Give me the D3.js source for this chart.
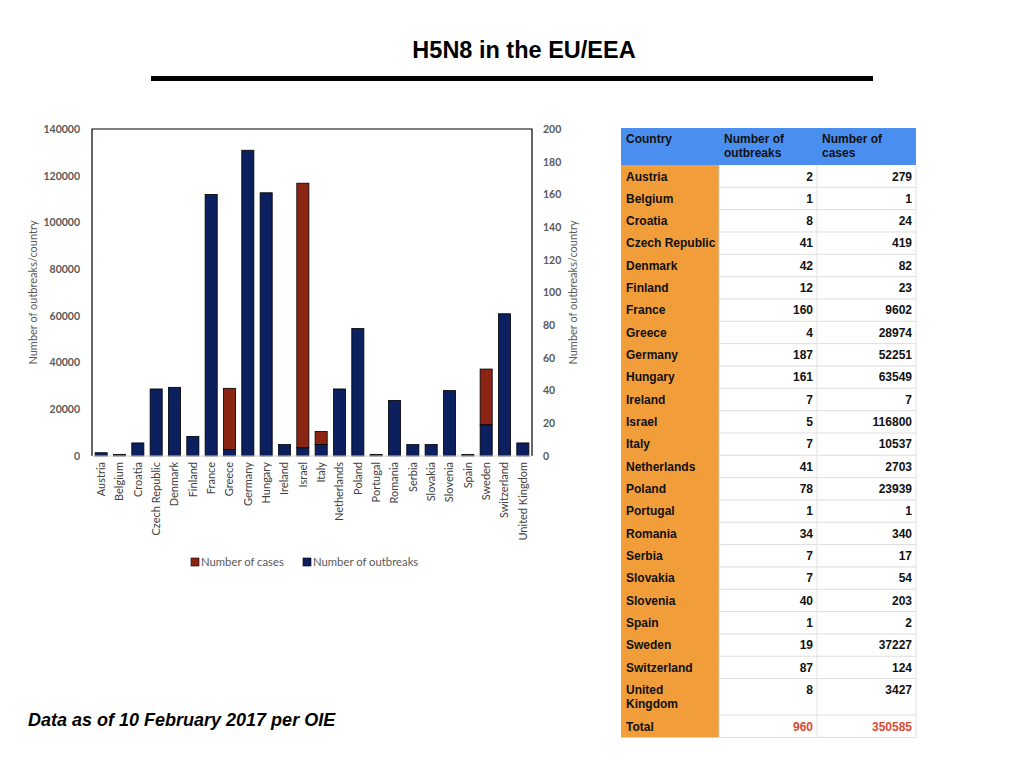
<!DOCTYPE html>
<html>
<head>
<meta charset="utf-8">
<script src="https://cdn.jsdelivr.net/npm/d3@7"></script>
<style>
  body { margin: 0; background: #fff; }
  svg { display: block; }
</style>
</head>
<body>
<script>
var countries = ["Austria", "Belgium", "Croatia", "Czech Republic", "Denmark", "Finland", "France",
  "Greece", "Germany", "Hungary", "Ireland", "Israel", "Italy", "Netherlands", "Poland", "Portugal",
  "Romania", "Serbia", "Slovakia", "Slovenia", "Spain", "Sweden", "Switzerland", "United Kingdom"];
var outbreaks = [2, 1, 8, 41, 42, 12, 160, 4, 187, 161, 7, 5, 7, 41, 78, 1, 34, 7, 7, 40, 1, 19, 87, 8];
var cases = [279, 1, 24, 419, 82, 23, 9602, 28974, 52251, 63549, 7, 116800, 10537, 2703, 23939, 1,
  340, 17, 54, 203, 2, 37227, 124, 3427];
var leftTicks = [0, 20000, 40000, 60000, 80000, 100000, 120000, 140000];
var rightTicks = [0, 20, 40, 60, 80, 100, 120, 140, 160, 180, 200];
var tableHeader = [["Country"], ["Number of", "outbreaks"], ["Number of", "cases"]];

var W = 1024, H = 768;
var navy = "#0c1f5e", red = "#8c2414";
var axisFont = "Lato, 'Open Sans', sans-serif";

var svg = d3.select("body").append("svg")
  .attr("width", W).attr("height", H)
  .attr("viewBox", [0, 0, W, H]);

// title
svg.append("text")
  .attr("x", 524).attr("y", 58)
  .attr("text-anchor", "middle")
  .style("font-family", "'Liberation Sans', Arial, sans-serif")
  .style("font-weight", "bold")
  .style("font-size", "23.5px")
  .text("H5N8 in the EU/EEA");

svg.append("rect")
  .attr("x", 151).attr("y", 76)
  .attr("width", 722).attr("height", 5)
  .attr("fill", "#000");

// chart
var plot = { left: 92, right: 532, top: 129, bottom: 456 };

var x = d3.scaleBand()
  .domain(countries)
  .range([plot.left, plot.right])
  .paddingInner(0.34)
  .paddingOuter(0.17);

var yCases = d3.scaleLinear().domain([0, 140000]).range([plot.bottom, plot.top]);
var yOut = d3.scaleLinear().domain([0, 200]).range([plot.bottom, plot.top]);

var g = svg.append("g");

// cases: only the part rising above the outbreak bar shows
g.selectAll("rect.cases")
  .data(countries.filter(function(d, i) { return yCases(cases[i]) < yOut(outbreaks[i]); }))
  .enter().append("rect")
  .attr("class", "cases")
  .attr("x", function(d) { return x(d); })
  .attr("width", x.bandwidth())
  .attr("y", function(d) { return yCases(cases[countries.indexOf(d)]); })
  .attr("height", function(d) {
    var i = countries.indexOf(d);
    return yOut(outbreaks[i]) - yCases(cases[i]);
  })
  .attr("fill", red)
  .attr("stroke", "#000")
  .attr("stroke-width", 0.8);

// outbreaks
g.selectAll("rect.outbreaks")
  .data(countries)
  .enter().append("rect")
  .attr("class", "outbreaks")
  .attr("x", function(d) { return x(d); })
  .attr("width", x.bandwidth())
  .attr("y", function(d, i) { return yOut(outbreaks[i]); })
  .attr("height", function(d, i) { return plot.bottom - yOut(outbreaks[i]); })
  .attr("fill", navy)
  .attr("stroke", "#000")
  .attr("stroke-width", 0.8);

// frame
svg.append("path")
  .attr("d", "M" + plot.left + "," + plot.bottom + "V" + plot.top + "H" + plot.right + "V" + plot.bottom)
  .attr("fill", "none")
  .attr("stroke", "#000")
  .attr("stroke-width", 1.2);
svg.append("line")
  .attr("x1", plot.left).attr("x2", plot.right)
  .attr("y1", plot.bottom).attr("y2", plot.bottom)
  .attr("stroke", "#d0d0d0")
  .attr("stroke-width", 1.2);

// y axes
var leftAxis = svg.append("g")
  .attr("transform", "translate(" + plot.left + ",0)")
  .call(d3.axisLeft(yCases).tickValues(leftTicks).tickSize(0).tickPadding(12).tickFormat(d3.format("d")));
var rightAxis = svg.append("g")
  .attr("transform", "translate(" + plot.right + ",0)")
  .call(d3.axisRight(yOut).tickValues(rightTicks).tickSize(0).tickPadding(11).tickFormat(d3.format("d")));
[leftAxis, rightAxis].forEach(function(a) {
  a.select(".domain").remove();
  a.selectAll("text")
    .style("font-family", axisFont)
    .style("font-size", "10.5px")
    .style("font-weight", "bold")
    .attr("fill", "#595959");
});

// x axis labels
var xAxis = svg.append("g")
  .attr("transform", "translate(0," + plot.bottom + ")")
  .call(d3.axisBottom(x).tickSize(0).tickPadding(0));
xAxis.select(".domain").remove();
xAxis.selectAll("text")
  .attr("transform", "rotate(-90)")
  .attr("x", -6)
  .attr("y", 0)
  .attr("dy", "0.35em")
  .style("text-anchor", "end")
  .style("font-family", axisFont)
  .style("font-size", "11px")
  .attr("fill", "#404040");

// axis titles
[33, 573].forEach(function(cx) {
  svg.append("text")
    .attr("transform", "translate(" + cx + "," + ((plot.top + plot.bottom) / 2) + ") rotate(-90)")
    .attr("text-anchor", "middle")
    .attr("dy", "0.35em")
    .style("font-family", axisFont)
    .style("font-size", "11px")
    .attr("fill", "#595959")
    .text("Number of outbreaks/country");
});

// legend
var legend = [
  { label: "Number of cases", color: red, x: 191 },
  { label: "Number of outbreaks", color: navy, x: 303 }
];
var lg = svg.append("g").selectAll("g").data(legend).enter().append("g")
  .attr("transform", function(d) { return "translate(" + d.x + ",562)"; });
lg.append("rect")
  .attr("x", 0).attr("y", -4)
  .attr("width", 8).attr("height", 8)
  .attr("fill", function(d) { return d.color; })
  .attr("stroke", "#000").attr("stroke-width", 0.6);
lg.append("text")
  .attr("x", 10).attr("dy", "0.35em")
  .style("font-family", axisFont)
  .style("font-size", "11.3px")
  .attr("fill", "#595959")
  .text(function(d) { return d.label; });

// table
var tbl = { cols: [621, 719, 817, 916], top: 128, headH: 37, rowH: 22.33 };
var tableFont = "'Liberation Sans', Arial, sans-serif";
var cellSize = "12px";
var rows = countries.map(function(c, i) {
  return { lines: c === "United Kingdom" ? ["United", "Kingdom"] : [c], o: outbreaks[i], c: cases[i], total: false };
});
rows.push({ lines: ["Total"], o: d3.sum(outbreaks), c: d3.sum(cases), total: true });

var yPos = tbl.top + tbl.headH;
rows.forEach(function(r) {
  r.y = yPos;
  r.h = r.lines.length > 1 ? 36.5 : tbl.rowH;
  yPos += r.h;
});
var tableBottom = yPos;

var tg = svg.append("g");
// header
tg.append("rect")
  .attr("x", tbl.cols[0]).attr("y", tbl.top)
  .attr("width", tbl.cols[3] - tbl.cols[0]).attr("height", tbl.headH)
  .attr("fill", "#4a8fef");
tableHeader.forEach(function(lines, j) {
  lines.forEach(function(t, k) {
    tg.append("text")
      .attr("x", tbl.cols[j] + 5)
      .attr("y", tbl.top + 15 + k * 14)
      .style("font-family", tableFont)
      .style("font-weight", "bold")
      .style("font-size", cellSize)
      .attr("fill", "#111")
      .text(t);
  });
});
// country column
tg.append("rect")
  .attr("x", tbl.cols[0]).attr("y", tbl.top + tbl.headH)
  .attr("width", tbl.cols[1] - tbl.cols[0]).attr("height", tableBottom - tbl.top - tbl.headH)
  .attr("fill", "#f09d3a");

var rg = tg.selectAll("g.row").data(rows).enter().append("g").attr("class", "row");
rg.append("line")
  .attr("x1", tbl.cols[1]).attr("x2", tbl.cols[3])
  .attr("y1", function(d) { return d.y + d.h; }).attr("y2", function(d) { return d.y + d.h; })
  .attr("stroke", "#dedede");
rg.each(function(d) {
  var s = d3.select(this);
  d.lines.forEach(function(t, k) {
    s.append("text")
      .attr("x", tbl.cols[0] + 5)
      .attr("y", d.y + 15.5 + k * 14)
      .style("font-family", tableFont)
      .style("font-weight", "bold")
      .style("font-size", cellSize)
      .attr("fill", "#111")
      .text(t);
  });
  [d.o, d.c].forEach(function(v, j) {
    s.append("text")
      .attr("x", tbl.cols[j + 2] - 4)
      .attr("y", d.y + 15.5)
      .attr("text-anchor", "end")
      .style("font-family", tableFont)
      .style("font-weight", "bold")
      .style("font-size", cellSize)
      .attr("fill", d.total ? "#e04a32" : "#111")
      .text(v);
  });
});
// vertical lines
[[tbl.cols[1], "#c9c9c9"], [tbl.cols[2], "#e2e2e2"], [tbl.cols[3], "#e2e2e2"]].forEach(function(v) {
  tg.append("line")
    .attr("x1", v[0]).attr("x2", v[0])
    .attr("y1", tbl.top + tbl.headH).attr("y2", tableBottom)
    .attr("stroke", v[1]);
});

// footnote
svg.append("text")
  .attr("x", 28).attr("y", 726)
  .style("font-family", tableFont)
  .style("font-weight", "bold")
  .style("font-style", "italic")
  .style("font-size", "18px")
  .text("Data as of 10 February 2017 per OIE");
</script>
</body>
</html>
